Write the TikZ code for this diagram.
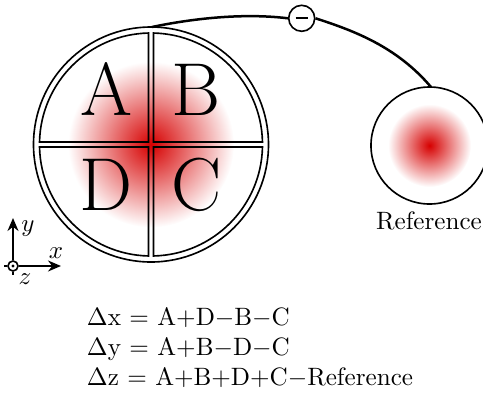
\documentclass[tikz,border=0pt]{standalone}
\usetikzlibrary{arrows.meta}
\definecolor{blobred}{RGB}{214,0,0}
\pgfdeclareradialshading{blob}{\pgfpointorigin}{color(0bp)=(blobred); color(25bp)=(white); color(50bp)=(white)}
\tikzset{
  px/.style={x=0.4pt,y=-0.4pt},
  outline/.style={line width=0.65pt,black},
  wire/.style={line width=1pt,black},
  letter/.style={font=\fontsize{30}{36}\selectfont,inner sep=0pt,anchor=base},
  eq/.style={anchor=base west,inner sep=0pt,font=\fontsize{10.05}{12}\selectfont},
  lab/.style={inner sep=0pt,anchor=base,font=\fontsize{10.05}{12}\selectfont},
  axis/.style={line width=0.65pt,-{Stealth[length=5.2pt,width=4.4pt]}},
}
\begin{document}
\begin{tikzpicture}[px]
\useasboundingbox (0,0) rectangle (483,395);
\clip (0,0) rectangle (483,395);
\coordinate (c) at (151,144.5);
\coordinate (r) at (429.5,145.5);
% intensity spots
\shade[shading=blob] (c) circle [radius=83];
\shade[shading=blob] (r) circle [radius=41.5];
% detector outline
\draw[outline] (c) circle [radius=117.5];
\draw[outline] (148.5,142) -- (148.5,33.03) arc [start angle=-91.28,end angle=-178.72,radius=111.5] -- cycle;
\draw[outline] (153.5,142) -- (153.5,33.03) arc [start angle=-88.72,end angle=-1.28,radius=111.5] -- cycle;
\draw[outline] (148.5,147) -- (148.5,255.97) arc [start angle=91.28,end angle=178.72,radius=111.5] -- cycle;
\draw[outline] (153.5,147) -- (153.5,255.97) arc [start angle=88.72,end angle=1.28,radius=111.5] -- cycle;
\node[letter] (A) at (106,115) {A};
\node[letter] (B) at (196,115) {B};
\node[letter] (D) at (105.6,210) {D};
\node[letter] (C) at (197,210) {C};
\draw[outline] (r) circle [radius=58.5];
\node[lab] (ref) at (429,229) {Reference};
\node[draw,circle,outline,minimum size=10.4pt,inner sep=0pt,fill=white] (m) at (301.7,18.3) {};
\draw[outline] (m.center) ++(-6,0) -- ++(12,0);
\coordinate (top) at (152,27);
\coordinate (rt) at (431,87);
\draw[wire] (top) .. controls (195,18) and (245,13) .. (m.west);
\draw[wire] (m.east) .. controls (355,31) and (397,47) .. (rt);
% axes
\coordinate (o) at (13,266);
\node[draw,circle,outline,minimum size=4pt,inner sep=0pt] (z) at (o) {};
\fill (o) circle [radius=1.7];
\coordinate (yt) at (13,218);
\coordinate (xt) at (61,266);
\draw[axis] (z) -- (yt);
\draw[axis] (z) -- (xt);
\draw[outline] (z.west) -- ++(-3,0);
\draw[outline] (z.south) -- ++(0,3);
\node[lab] (ly) at (28,231) {$y$};
\node[lab] (lx) at (56,258) {$x$};
\node[lab] (lz) at (25,284) {$z$};
% equations
\node[eq] (e1) at (86.5,325) {$\Delta$x = A+D$-$B$-$C};
\node[eq] (e2) at (86.5,355) {$\Delta$y = A+B$-$D$-$C};
\node[eq] (e3) at (86.5,385) {$\Delta$z = A+B+D+C$-$Reference};
\end{tikzpicture}
\end{document}
